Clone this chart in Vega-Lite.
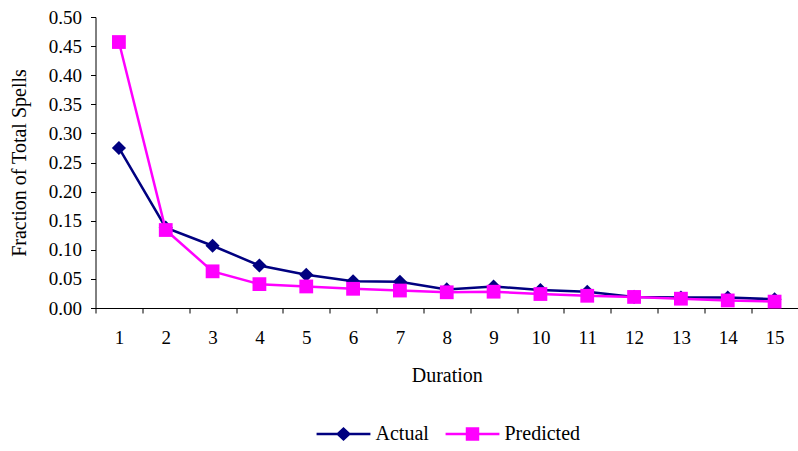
{
  "$schema": "https://vega.github.io/schema/vega-lite/v6.json",
  "autosize": "none",
  "width": 702.5,
  "height": 291,
  "padding": {"left": 95.5, "top": 17, "right": 0, "bottom": 143},
  "background": "white",
  "config": {
    "view": {"stroke": null},
    "font": "Liberation Serif",
    "axis": {"labelFont": "Liberation Serif", "titleFont": "Liberation Serif", "labelFontSize": 19, "titleFontSize": 20, "titleFontWeight": "normal", "labelColor": "black", "titleColor": "black", "domainColor": "black", "tickColor": "black", "grid": false},
    "legend": {
      "orient": "none", "direction": "horizontal",
      "legendX": 221, "legendY": 390,
      "padding": 0,
      "symbolSize": 2900, "symbolStrokeWidth": 0,
      "labelFont": "Liberation Serif", "labelFontSize": 20, "labelColor": "black",
      "labelOffset": 5, "columnPadding": 16
    }
  },
  "data": {
    "values": [
      {"duration": 1, "series": "Actual", "value": 0.275},
      {"duration": 2, "series": "Actual", "value": 0.138},
      {"duration": 3, "series": "Actual", "value": 0.107},
      {"duration": 4, "series": "Actual", "value": 0.073},
      {"duration": 5, "series": "Actual", "value": 0.057},
      {"duration": 6, "series": "Actual", "value": 0.046},
      {"duration": 7, "series": "Actual", "value": 0.045},
      {"duration": 8, "series": "Actual", "value": 0.032},
      {"duration": 9, "series": "Actual", "value": 0.037},
      {"duration": 10, "series": "Actual", "value": 0.031},
      {"duration": 11, "series": "Actual", "value": 0.028},
      {"duration": 12, "series": "Actual", "value": 0.019},
      {"duration": 13, "series": "Actual", "value": 0.018},
      {"duration": 14, "series": "Actual", "value": 0.018},
      {"duration": 15, "series": "Actual", "value": 0.015},
      {"duration": 1, "series": "Predicted", "value": 0.457},
      {"duration": 2, "series": "Predicted", "value": 0.134},
      {"duration": 3, "series": "Predicted", "value": 0.063},
      {"duration": 4, "series": "Predicted", "value": 0.041},
      {"duration": 5, "series": "Predicted", "value": 0.037},
      {"duration": 6, "series": "Predicted", "value": 0.033},
      {"duration": 7, "series": "Predicted", "value": 0.030},
      {"duration": 8, "series": "Predicted", "value": 0.027},
      {"duration": 9, "series": "Predicted", "value": 0.028},
      {"duration": 10, "series": "Predicted", "value": 0.024},
      {"duration": 11, "series": "Predicted", "value": 0.021},
      {"duration": 12, "series": "Predicted", "value": 0.019},
      {"duration": 13, "series": "Predicted", "value": 0.016},
      {"duration": 14, "series": "Predicted", "value": 0.013},
      {"duration": 15, "series": "Predicted", "value": 0.011}
    ]
  },
  "encoding": {
    "x": {
      "field": "duration", "type": "ordinal", "title": "Duration",
      "scale": {"type": "band", "paddingInner": 0, "paddingOuter": 0},
      "axis": {"labelAngle": 0, "tickBand": "extent", "tickSize": 5, "labelPadding": 15, "titlePadding": 18}
    },
    "y": {
      "field": "value", "type": "quantitative", "title": "Fraction of Total Spells",
      "scale": {"domain": [0, 0.5], "nice": false, "zero": true},
      "axis": {"values": [0, 0.05, 0.1, 0.15, 0.2, 0.25, 0.3, 0.35, 0.4, 0.45, 0.5], "format": ".2f", "tickSize": 5, "labelPadding": 9, "titlePadding": 19}
    },
    "color": {
      "field": "series", "type": "nominal",
      "scale": {"domain": ["Actual", "Predicted"], "range": ["#000080", "#FF00FF"]},
      "legend": {"title": null}
    }
  },
  "layer": [
    {
      "transform": [{"filter": "datum.series === 'Actual'"}],
      "mark": {"type": "line", "strokeWidth": 2.5}
    },
    {
      "transform": [{"filter": "datum.series === 'Actual'"}],
      "mark": {"type": "point", "filled": true, "opacity": 1, "size": 200, "shape": "diamond"}
    },
    {
      "transform": [{"filter": "datum.series === 'Predicted'"}],
      "mark": {"type": "line", "strokeWidth": 2.5}
    },
    {
      "transform": [{"filter": "datum.series === 'Predicted'"}],
      "mark": {"type": "point", "filled": true, "opacity": 1, "size": 190, "shape": "square"}
    },
    {
      "transform": [{"filter": "false"}],
      "mark": {"type": "point", "filled": true, "opacity": 1},
      "encoding": {
        "shape": {
          "field": "series", "type": "nominal",
          "scale": {
            "domain": ["Actual", "Predicted"],
            "range": [
              "M-1,-0.046L-0.23,-0.046L0,-0.26L0.23,-0.046L1,-0.046L1,0.046L0.23,0.046L0,0.26L-0.23,0.046L-1,0.046Z",
              "M-1,-0.046L-0.25,-0.046L-0.25,-0.25L0.25,-0.25L0.25,-0.046L1,-0.046L1,0.046L0.25,0.046L0.25,0.25L-0.25,0.25L-0.25,0.046L-1,0.046Z"
            ]
          },
          "legend": {"title": null}
        }
      }
    }
  ]
}
